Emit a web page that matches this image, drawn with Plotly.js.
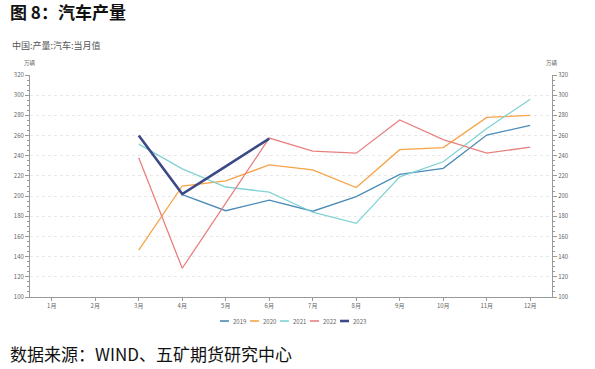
<!DOCTYPE html>
<html><head><meta charset="utf-8">
<script src="https://cdn.plot.ly/plotly-3.0.1.min.js"></script>
<style>body{margin:0;background:#fff}#c{width:595px;height:369px}</style>
</head><body><div id="c"></div>
<script>
const months = ["1月","2月","3月","4月","5月","6月","7月","8月","9月","10月","11月","12月"];
const v2019 = [null,null,null,201.5,185.5,196,185,199.5,221.5,227.5,260.5,270];
const v2020 = [null,null,146.5,210,215,231,226,208.5,246,248,278,280];
const v2021 = [null,null,251.5,227,209,204,184,173,219,234,267,296];
const v2022 = [null,null,238,128.5,193,257.5,244.5,242.5,275.5,256,242.5,248.5];
const v2023 = [null,null,260,202,229.5,257];
const names = ["2019","2020","2021","2022","2023"];
const colors = ["#4a8bb7","#f6a347","#80d2d4","#e98080","#3b4a86"];
const widths = [1.3,1.3,1.3,1.3,2.6];
const series = [v2019,v2020,v2021,v2022,v2023];
const traces = series.map((s,i)=>({
  x: months.slice(0,s.length), y: s, name: names[i], type:'scatter', mode:'lines',
  line:{color:colors[i], width:widths[i]}, connectgaps:false, showlegend:false
}));
traces.push({x:months, y:months.map(()=>null), yaxis:'y2', showlegend:false, hoverinfo:'skip', type:'scatter', mode:'lines'});
const tickfont = {family:'Noto Sans CJK SC, sans-serif', size:6, color:'#666'};
const yax = {
  range:[100,320], dtick:20, tick0:100, showline:true, linecolor:'#999', linewidth:1,
  ticks:'outside', ticklen:4, tickcolor:'#999', tickfont:tickfont,
  showgrid:true, gridcolor:'#e8e8e8', griddash:'dot', gridwidth:1, zeroline:false,
  minor:{dtick:5, ticks:'outside', ticklen:2, tickcolor:'#999', showgrid:false}
};
// custom compact legend (paper px positions)
const W = 595, H = 369, ml = 30, mr = 43, mt = 75, mb = 72;
const pw = W - ml - mr, ph = H - mt - mb;
const px = x => (x - ml) / pw;
const py = y => (H - mb - y) / ph;
const legShapes = [], legAnn = [];
names.forEach((n,i)=>{
  const x0 = 220 + i*30, yy = 321;
  legShapes.push({type:'line', xref:'paper', yref:'paper', x0:px(x0), x1:px(x0+9), y0:py(yy), y1:py(yy),
    line:{color:colors[i], width: i===4 ? 2.6 : 1.6}});
  legAnn.push({text:n, xref:'paper', yref:'paper', x:px(x0+11), y:py(yy), xanchor:'left', yanchor:'middle',
    showarrow:false, font:{family:'Noto Sans CJK SC, sans-serif', size:6, color:'#666'}});
});
const layout = {
  width:W, height:H, paper_bgcolor:'#fff', plot_bgcolor:'#fff',
  margin:{l:ml, r:mr, t:mt, b:mb},
  showlegend:false,
  xaxis:{type:'category', categoryarray:months, range:[-0.5,11.5], showline:true, linecolor:'#999',
    ticks:'outside', ticklen:3, tickcolor:'#999', tickfont:tickfont, showgrid:false, zeroline:false},
  yaxis: yax,
  yaxis2: Object.assign({}, yax, {overlaying:'y', side:'right', showgrid:false}),
  shapes: legShapes,
  annotations:[
    {text:'<b>图 8：汽车产量</b>', xref:'paper', yref:'paper', x:-0.043, y:1.0, xanchor:'left', yanchor:'bottom',
      yshift:49, showarrow:false, font:{family:'Noto Sans CJK SC, sans-serif', size:17, color:'#111'}},
    {text:'中国:产量:汽车:当月值', xref:'paper', yref:'paper', x:-0.038, y:1.0, xanchor:'left', yanchor:'bottom',
      yshift:21, showarrow:false, font:{family:'Noto Sans CJK SC, sans-serif', size:9, color:'#555'}},
    {text:'万辆', xref:'paper', yref:'paper', x:0.0, y:1.0, xanchor:'center', yanchor:'bottom',
      yshift:6, showarrow:false, font:{family:'Noto Sans CJK SC, sans-serif', size:5.5, color:'#666'}},
    {text:'万辆', xref:'paper', yref:'paper', x:1.0, y:1.0, xanchor:'center', yanchor:'bottom',
      yshift:6, showarrow:false, font:{family:'Noto Sans CJK SC, sans-serif', size:5.5, color:'#666'}},
    {text:'数据来源：WIND、五矿期货研究中心', xref:'paper', yref:'paper', x:-0.043, y:0, xanchor:'left', yanchor:'top',
      yshift:-42, showarrow:false, font:{family:'Noto Sans CJK SC, sans-serif', size:17, color:'#111'}}
  ].concat(legAnn)
};
Plotly.newPlot('c', traces, layout, {staticPlot:true});
</script></body></html>
